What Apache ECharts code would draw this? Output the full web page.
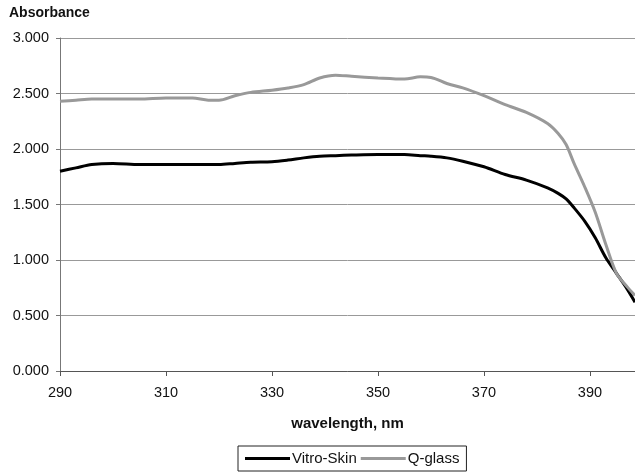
<!DOCTYPE html>
<html>
<head>
<meta charset="utf-8">
<script src="https://cdn.jsdelivr.net/npm/echarts@6/dist/echarts.min.js"></script>
<style>
  html, body { margin: 0; padding: 0; background: #fff; }
  #main { width: 635px; height: 473px; }
</style>
</head>
<body>
<div id="main"></div>
<script>
// wavelength (nm) and absorbance
var wavelength = [290, 293, 296, 300, 305, 310, 315, 318, 320, 323, 326, 330, 333, 336, 339, 342, 345, 350, 355, 358, 360, 363, 366, 370, 374, 378, 382, 384, 385.5, 387, 389, 391, 393, 395, 397, 398.5];
var vitroSkin = [1.80, 1.83, 1.86, 1.87, 1.86, 1.86, 1.86, 1.86, 1.86, 1.87, 1.88, 1.885, 1.90, 1.92, 1.935, 1.94, 1.945, 1.95, 1.95, 1.94, 1.935, 1.92, 1.89, 1.84, 1.77, 1.72, 1.65, 1.60, 1.55, 1.47, 1.35, 1.20, 1.02, 0.88, 0.74, 0.62];
var qGlass = [2.43, 2.44, 2.45, 2.45, 2.45, 2.46, 2.46, 2.44, 2.44, 2.48, 2.51, 2.53, 2.55, 2.58, 2.64, 2.665, 2.655, 2.64, 2.63, 2.65, 2.645, 2.59, 2.55, 2.48, 2.40, 2.33, 2.23, 2.14, 2.04, 1.87, 1.66, 1.43, 1.14, 0.88, 0.76, 0.68];

function pairs(xs, ys) {
    var out = [];
    for (var i = 0; i < xs.length; i++) out.push([xs[i], ys[i]]);
    return out;
}

var font = 'Liberation Sans, Arial, sans-serif';
var chart = echarts.init(document.getElementById('main'));
var option = {
    animation: false,
    textStyle: { fontFamily: font },
    grid: {
        left: 60,
        right: 0,
        top: 38,
        bottom: 102
    },
    graphic: [{
        type: 'text',
        left: 9,
        top: 6,
        style: {
            text: 'Absorbance',
            font: 'bold 14px ' + font,
            fill: '#111'
        }
    }],
    legend: {
        left: 238,
        top: 446,
        icon: 'rect',
        itemWidth: 45,
        itemHeight: 3,
        itemGap: 4,
        padding: [5, 7],
        borderColor: '#222',
        borderWidth: 1,
        textStyle: { fontSize: 15, color: '#111', padding: [0, 0, 0, -3] },
        data: ['Vitro-Skin', 'Q-glass']
    },
    xAxis: {
        type: 'value',
        min: 290,
        max: 398.5,
        interval: 20,
        name: 'wavelength, nm',
        nameLocation: 'middle',
        nameGap: 45,
        nameTextStyle: { fontSize: 15, fontWeight: 'bold', color: '#111' },
        axisLine: { lineStyle: { color: '#555', width: 1 } },
        axisTick: { length: 5, lineStyle: { color: '#555' } },
        axisLabel: {
            fontSize: 14.5,
            color: '#111',
            margin: 14,
            showMaxLabel: false,
            formatter: function (v) { return v % 20 === 10 ? v : ''; }
        },
        splitLine: { show: false }
    },
    yAxis: {
        type: 'value',
        min: 0,
        max: 3,
        interval: 0.5,
        axisLine: { show: true, lineStyle: { color: '#777', width: 1 } },
        axisTick: { show: true, length: 4, lineStyle: { color: '#777' } },
        axisLabel: {
            fontSize: 14.5,
            color: '#111',
            margin: 11,
            formatter: function (v) { return v.toFixed(3); }
        },
        splitLine: { lineStyle: { color: '#999', width: 1 } }
    },
    series: [{
        name: 'Vitro-Skin',
        type: 'line',
        showSymbol: false,
        smooth: 0.3,
        color: '#000',
        lineStyle: { color: '#000', width: 3 },
        data: pairs(wavelength, vitroSkin)
    }, {
        name: 'Q-glass',
        type: 'line',
        showSymbol: false,
        smooth: 0.3,
        color: '#999',
        lineStyle: { color: '#999', width: 3 },
        data: pairs(wavelength, qGlass)
    }]
};
chart.setOption(option);
</script>
</body>
</html>
